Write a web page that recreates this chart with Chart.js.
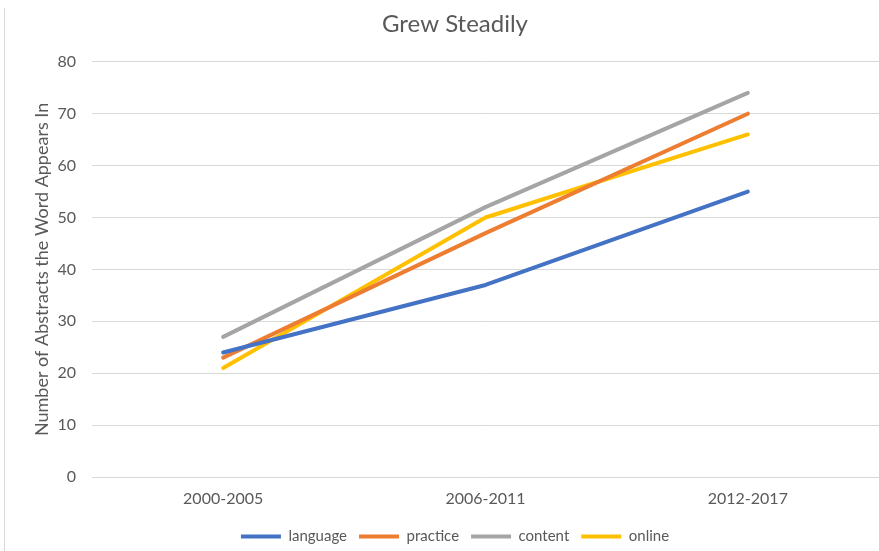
<!DOCTYPE html>
<html>
<head>
<meta charset="utf-8">
<script src="https://cdn.jsdelivr.net/npm/chart.js@4/dist/chart.umd.min.js"></script>
<style>
  html, body { margin: 0; padding: 0; background: #fff; }
  #wrap { position: relative; width: 879px; height: 551px; }
  #edge { position: absolute; left: 4px; top: 8px; width: 1px; height: 543px; background: #d9d9d9; }
</style>
</head>
<body>
<div id="wrap">
  <canvas id="chart" width="879" height="551"></canvas>
  <div id="edge"></div>
</div>
<script>
const periods = ['2000-2005', '2006-2011', '2012-2017'];
const language = [24, 37, 55];
const practice = [23, 47, 70];
const content = [27, 52, 74];
const online = [21, 50, 66];

const textColor = '#595959';
const fontFamily = 'Lato, "Open Sans", sans-serif';

function series(label, data, color) {
    return {
        label: label,
        data: data,
        borderColor: color,
        backgroundColor: color,
        borderWidth: 4,
        borderCapStyle: 'round',
        borderJoinStyle: 'round',
        pointRadius: 0,
        tension: 0
    };
}

const context = document.getElementById('chart').getContext('2d');
const chart = new Chart(context, {
    type: 'line',
    data: {
        labels: periods,
        datasets: [
            series('language', language, '#4472C4'),
            series('practice', practice, '#ED7D31'),
            series('content', content, '#A5A5A5'),
            series('online', online, '#FFC000')
        ]
    },
    options: {
        responsive: false,
        animation: false,
        layout: { padding: { left: 31, right: 0, top: 0, bottom: -3 } },
        plugins: {
            title: {
                display: true,
                text: 'Grew Steadily',
                color: textColor,
                font: { family: fontFamily, size: 24, weight: 'normal' },
                padding: { top: 10, bottom: 23 }
            },
            legend: {
                position: 'bottom',
                labels: {
                    color: textColor,
                    font: { family: fontFamily, size: 15 },
                    usePointStyle: true,
                    pointStyle: 'line',
                    pointStyleWidth: 40,
                    padding: 12
                }
            },
            tooltip: { enabled: false }
        },
        scales: {
            x: {
                offset: true,
                grid: { display: false, drawTicks: false },
                border: { display: false },
                ticks: {
                    color: textColor,
                    font: { family: fontFamily, size: 16 },
                    padding: 12
                },
                afterFit: function (scale) { scale.height = 40; }
            },
            y: {
                min: 0,
                max: 80,
                ticks: {
                    stepSize: 10,
                    color: textColor,
                    font: { family: fontFamily, size: 16 },
                    padding: 16
                },
                grid: { color: '#d9d9d9', lineWidth: 1, drawTicks: false },
                border: { display: false },
                title: {
                    display: true,
                    text: 'Number of Abstracts the Word Appears In',
                    color: textColor,
                    font: { family: fontFamily, size: 18 },
                    padding: { top: 0, bottom: 0 }
                },
                afterFit: function (scale) { scale.width = 61; }
            }
        }
    }
});
</script>
</body>
</html>
